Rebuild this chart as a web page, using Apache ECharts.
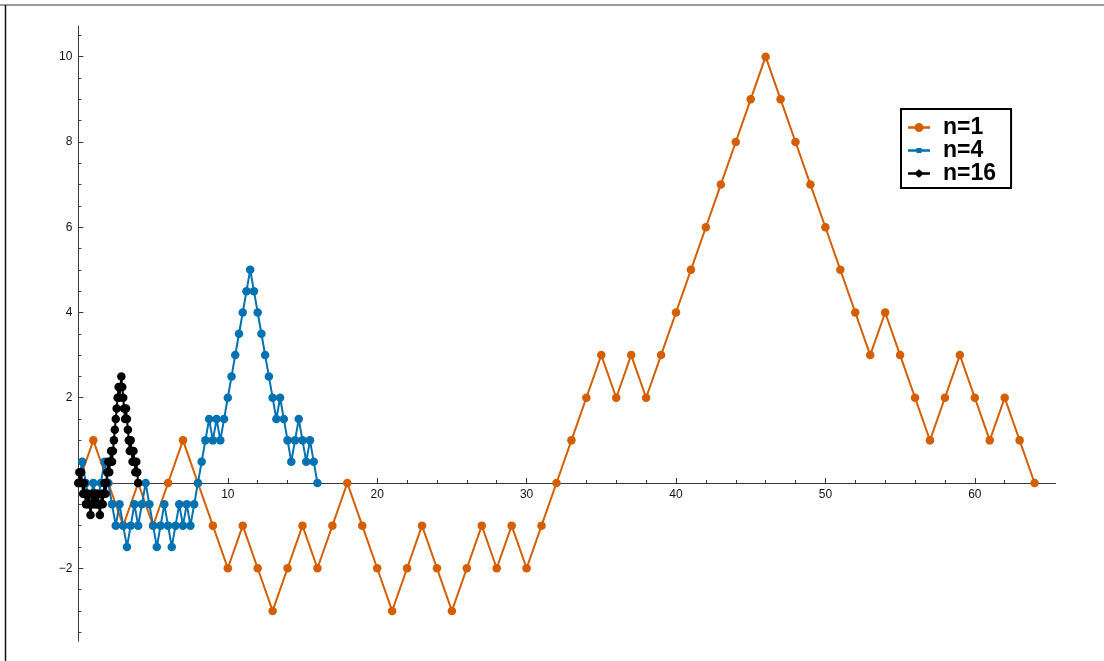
<!DOCTYPE html>
<html>
<head>
<meta charset="utf-8">
<script src="https://cdn.jsdelivr.net/npm/echarts@6/dist/echarts.min.js"></script>
<style>
  html, body { margin: 0; padding: 0; background: #fff; }
  #chart { width: 1104px; height: 661px; }
</style>
</head>
<body>
<div id="chart"></div>
<script>
// random walks, 64 steps each, value at step k (scaled by 1/sqrt(n))
const walkN1 = [0, 1, 0, -1, 0, -1, 0, 1, 0, -1, -2, -1, -2, -3, -2, -1, -2, -1, 0, -1,
  -2, -3, -2, -1, -2, -3, -2, -1, -2, -1, -2, -1, 0, 1, 2, 3, 2, 3, 2, 3,
  4, 5, 6, 7, 8, 9, 10, 9, 8, 7, 6, 5, 4, 3, 4, 3, 2, 1, 2, 3, 2, 1, 2, 1, 0];
const walkN4 = [0, 0.5, 0, -0.5, 0, -0.5, 0, 0.5, 0, -0.5, -1, -0.5, -1, -1.5, -1, -0.5, -1, -0.5, 0, -0.5,
  -1, -1.5, -1, -0.5, -1, -1.5, -1, -0.5, -1, -0.5, -1, -0.5, 0, 0.5, 1, 1.5, 1, 1.5, 1, 1.5,
  2, 2.5, 3, 3.5, 4, 4.5, 5, 4.5, 4, 3.5, 3, 2.5, 2, 1.5, 2, 1.5, 1, 0.5, 1, 1.5, 1, 0.5, 1, 0.5, 0];
const walkN16 = [0, 0.25, 0, 0.25, 0, -0.25, 0, -0.25, -0.5, -0.25, -0.5, -0.25, -0.5, -0.75, -0.5, -0.25, -0.5, -0.25, -0.5, -0.25,
  -0.5, -0.25, -0.5, -0.75, -0.5, -0.25, -0.5, -0.25, 0, -0.25, 0, 0.25, 0.5, 0.25, 0.5, 0.75, 0.5, 0.75, 1, 1.25,
  1.5, 1.75, 2, 2.25, 2, 2.25, 2.5, 2.25, 2, 1.75, 1.5, 1.75, 1.5, 1.25, 1, 0.75, 1, 0.75, 0.5, 0.75, 0.5, 0.25, 0.5, 0.25, 0];

const seriesNames = ['n=1', 'n=4', 'n=16'];
const seriesScale = [1, 4, 16];
const seriesColors = ['#D55E00', '#0072B2', '#000000'];
const walks = [walkN1, walkN4, walkN16];

// legend icons: line + marker (circle / square / diamond)
const legendIcons = [
  'path://M0,0L0,0M30,10L30,10M0,3.8L22,3.8L22,6.2L0,6.2ZM6.5,5A4.5,4.5 0 1,1 15.5,5A4.5,4.5 0 1,1 6.5,5Z',
  'path://M0,0L0,0M30,10L30,10M0,3.8L22,3.8L22,6.2L0,6.2ZM8.5,2.5L13.5,2.5L13.5,7.5L8.5,7.5Z',
  'path://M0,0L0,0M30,10L30,10M0,3.8L22,3.8L22,6.2L0,6.2ZM11,0.8L16,5L11,9.2L6,5Z'
];

// plot geometry (px per unit)
const x0 = 78.4, y0 = 483, kx = 14.94, ky = 42.63;
const xMax = 65.4, yMin = -3.71, yMax = 10.72;

const labelFont = { fontFamily: 'Liberation Sans', fontSize: 12, color: '#111' };
const axisColor = '#3a3a3a';

function toPoints(walk, n) {
  return walk.map((y, k) => [k / n, y]);
}

const chart = echarts.init(document.getElementById('chart'), null, { renderer: 'canvas' });

const option = {
  animation: false,
  backgroundColor: '#fff',
  grid: [
    // data grid
    { left: x0, top: y0 - yMax * ky, width: xMax * kx, height: (yMax - yMin) * ky },
    // x major ticks
    { left: x0, top: y0 - yMax * ky, width: 60 * kx, height: yMax * ky },
    // x minor ticks
    { left: x0, top: y0 - yMax * ky, width: 64 * kx, height: yMax * ky },
    // y major ticks
    { left: x0, top: y0 - 10 * ky, width: 100, height: 12 * ky },
    // y minor ticks
    { left: x0, top: y0 - 10.5 * ky, width: 100, height: 14 * ky }
  ],
  xAxis: [
    {
      gridIndex: 0, type: 'value', min: 0, max: xMax,
      axisLine: { onZero: true, lineStyle: { color: axisColor, width: 1 } },
      axisTick: { show: false }, axisLabel: { show: false }, splitLine: { show: false }
    },
    {
      gridIndex: 1, type: 'value', min: 0, max: 60, interval: 10, position: 'bottom',
      axisLine: { show: false, onZero: false },
      axisTick: { inside: true, length: 5, lineStyle: { color: axisColor } },
      axisLabel: Object.assign({ margin: 6, formatter: v => (v === 0 ? '' : String(v)) }, labelFont),
      splitLine: { show: false }
    },
    {
      gridIndex: 2, type: 'value', min: 0, max: 64, interval: 2, position: 'bottom',
      axisLine: { show: false, onZero: false },
      axisTick: { inside: true, length: 3, lineStyle: { color: axisColor } },
      axisLabel: { show: false }, splitLine: { show: false }
    },
    { gridIndex: 3, type: 'value', min: 0, max: 1, show: false },
    { gridIndex: 4, type: 'value', min: 0, max: 1, show: false }
  ],
  yAxis: [
    {
      gridIndex: 0, type: 'value', min: yMin, max: yMax,
      axisLine: { show: true, onZero: true, lineStyle: { color: axisColor, width: 1 } },
      axisTick: { show: false }, axisLabel: { show: false }, splitLine: { show: false }
    },
    { gridIndex: 1, type: 'value', min: 0, max: 1, show: false },
    { gridIndex: 2, type: 'value', min: 0, max: 1, show: false },
    {
      gridIndex: 3, type: 'value', min: -2, max: 10, interval: 2, position: 'left',
      axisLine: { show: false, onZero: false },
      axisTick: { inside: true, length: 5, lineStyle: { color: axisColor } },
      axisLabel: Object.assign({
        margin: 6,
        formatter: v => (v === 0 ? '' : (v < 0 ? '\u2212' + (-v) : String(v)))
      }, labelFont),
      splitLine: { show: false }
    },
    {
      gridIndex: 4, type: 'value', min: -3.5, max: 10.5, interval: 0.5, position: 'left',
      axisLine: { show: false, onZero: false },
      axisTick: { inside: true, length: 3, lineStyle: { color: axisColor } },
      axisLabel: { show: false }, splitLine: { show: false }
    }
  ],
  legend: {
    orient: 'vertical',
    left: 901,
    top: 109,
    padding: [7, 15, 3, 7],
    itemGap: 0,
    itemWidth: 30,
    itemHeight: 10,
    borderColor: '#000',
    borderWidth: 2,
    backgroundColor: '#fff',
    itemStyle: { borderWidth: 0 },
    textStyle: { fontFamily: 'Liberation Sans', fontSize: 23, fontWeight: 'bold', color: '#000', lineHeight: 22 },
    data: seriesNames.map((name, i) => ({ name: name, icon: legendIcons[i] }))
  },
  graphic: [
    { type: 'line', shape: { x1: 0, y1: 5, x2: 1104, y2: 5 }, style: { stroke: '#7a7a7a', lineWidth: 1.5 }, silent: true },
    { type: 'line', shape: { x1: 5.5, y1: 5, x2: 5.5, y2: 661 }, style: { stroke: '#111', lineWidth: 1.5 }, silent: true }
  ],
  series: walks.map((walk, i) => ({
    name: seriesNames[i],
    type: 'line',
    xAxisIndex: 0,
    yAxisIndex: 0,
    data: toPoints(walk, seriesScale[i]),
    symbol: 'circle',
    symbolSize: 8.5,
    showAllSymbol: true,
    color: seriesColors[i],
    lineStyle: { width: 2, color: seriesColors[i] },
    itemStyle: { color: seriesColors[i] },
    emphasis: { disabled: true }
  }))
};

chart.setOption(option);
</script>
</body>
</html>
